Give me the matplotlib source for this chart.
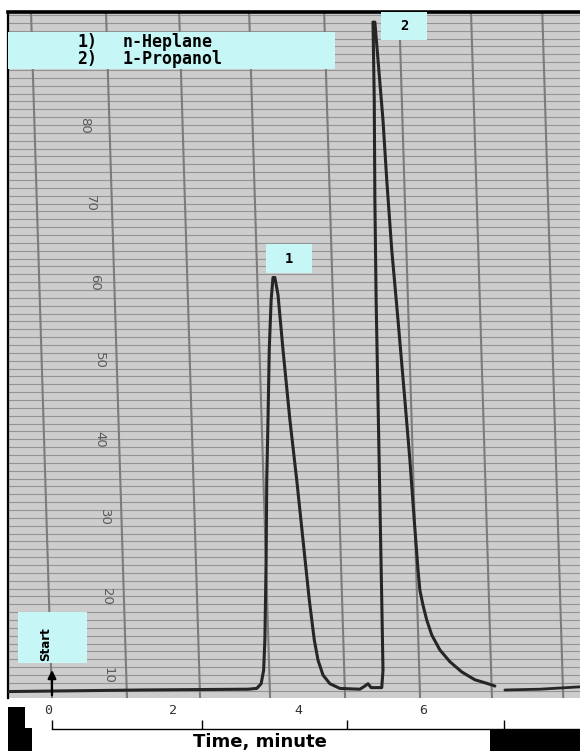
import matplotlib.pyplot as plt
from matplotlib.patches import Rectangle
import numpy as np

# pen trace: time in minutes, signal in chart units
trace_time = [-0.64, 1.50, 3.20, 3.34, 3.41, 3.45, 3.47, 3.49, 3.50, 3.52,
              3.54, 3.57, 3.60, 3.63, 3.68, 3.76, 3.87, 3.98, 4.08, 4.18,
              4.26, 4.32, 4.40, 4.51, 4.67, 4.99, 5.07, 5.12, 5.17, 5.34,
              5.36, 5.34, 5.31, 5.28, 5.25, 5.23, 5.22, 5.20, 5.23, 5.28,
              5.36, 5.42, 5.50, 5.60, 5.71, 5.79, 5.86, 5.92, 5.95, 6.00,
              6.06, 6.14, 6.27, 6.43, 6.62, 6.83, 7.04, 7.15]
trace_signal = [7.9, 8.1, 8.2, 8.3, 8.9, 10.6, 14.5, 24.6, 34.8, 42.5,
                51.4, 57.7, 60.6, 60.6, 58.4, 51.4, 42.5, 34.8, 27.2, 19.6,
                14.5, 11.9, 10.0, 8.9, 8.3, 8.2, 8.6, 8.9, 8.4, 8.4,
                10.6, 19.5, 32.3, 45.0, 57.7, 70.5, 83.2, 93.1, 93.1, 88.3,
                80.6, 73.0, 64.1, 55.2, 45.0, 37.4, 29.7, 23.4, 20.8, 18.9,
                17.0, 15.1, 13.2, 11.7, 10.4, 9.4, 8.9, 8.6]
# the pen line picks up again after a small gap
tail_time = [7.31, 7.87, 8.51]
tail_signal = [8.1, 8.2, 8.5]

peak_ids = ["1", "2"]
peak_names = ["n-Heplane", "1-Propanol"]
peak_label_time = [3.86, 5.70]
peak_label_signal = [61.2, 90.8]

paper_values = [80, 70, 60, 50, 40, 30, 20, 10]
paper_value_time = [0.59, 0.67, 0.75, 0.83, 0.83, 0.91, 0.94, 0.96]

time_labels = ["0", "2", "4", "6"]
time_label_pos = [0, 2, 4, 6]
time_tick_pos = [0.06, 2.46, 4.78, 7.30]

# vertical chart-paper lines where they cross the baseline (they lean a bit)
chart_lines = [0.06, 1.26, 2.43, 3.55, 4.75, 5.95, 7.10, 8.24]
lean = 0.00384

W, H = 580, 751
CYAN = "#c6f6f6"
XLIM = (-0.64, 8.512)
YLIM = (7.08, 94.39)


def px_rect(x0, y0, x1, y1):
    """ pixel box (top-left origin) -> figure fraction rect """
    return [x0 / W, 1 - y1 / H, (x1 - x0) / W, (y1 - y0) / H]


fig = plt.figure(figsize=(W / 100, H / 100), dpi=100, facecolor="white")

# chart paper
ax = fig.add_axes(px_rect(8, 12, 580, 698))
ax.set_xlim(*XLIM)
ax.set_ylim(*YLIM)
ax.set_facecolor("#cdcdcd")
ax.set_xticks([])
ax.set_yticks([])
for side in ["right", "bottom"]:
    ax.spines[side].set_visible(False)
ax.spines["top"].set_linewidth(2.6)
ax.spines["left"].set_linewidth(1.6)

ax.hlines(np.arange(8, 95), XLIM[0], XLIM[1], color="#949494", lw=0.8, zorder=1)
ys = np.array(YLIM)
for x0 in chart_lines:
    ax.plot(x0 - lean * (ys - 8), ys, color="#7c7c7c", lw=1.5, zorder=1.5)

for val, t in zip(paper_values, paper_value_time):
    ax.text(t, val, str(val), rotation=-90, ha="center", va="center",
            fontsize=9.5, color="#5a5a5a", zorder=2)

# the trace
ax.plot(trace_time, trace_signal, color="#262626", lw=2.2,
        solid_joinstyle="round", solid_capstyle="round", zorder=3)
ax.plot(tail_time, tail_signal, color="#262626", lw=2.0,
        solid_capstyle="round", zorder=3)

# peak number boxes
for pid, t, s in zip(peak_ids, peak_label_time, peak_label_signal):
    ax.add_patch(Rectangle((t - 0.37, s), 0.74, 3.6, facecolor=CYAN,
                           edgecolor="none", zorder=5, clip_on=False))
    ax.text(t, s + 1.8, pid, ha="center", va="center", fontsize=10,
            fontweight="bold", family="DejaVu Sans Mono", zorder=6)

# legend box
ax.add_patch(Rectangle((0, 0.917), 0.572, 0.054, transform=ax.transAxes,
                       facecolor=CYAN, edgecolor="none", zorder=5, clip_on=False))
for i, (pid, name) in enumerate(zip(peak_ids, peak_names)):
    y = 0.956 - 0.024 * i
    ax.text(0.121, y, pid + ")", transform=ax.transAxes, va="center",
            fontsize=12, fontweight="bold", family="DejaVu Sans Mono", zorder=6)
    ax.text(0.201, y, name, transform=ax.transAxes, va="center",
            fontsize=12, fontweight="bold", family="DejaVu Sans Mono", zorder=6)

# start marker
ax.add_patch(Rectangle((-0.48, 11.53), 1.10, 6.49, facecolor=CYAN,
                       edgecolor="none", zorder=5))
ax.text(-0.04, 14.0, "Start", rotation=90, ha="center", va="center",
        fontsize=9.5, fontweight="bold", stretch="condensed", zorder=6)
ax.annotate("", xy=(0.064, 11.0), xytext=(0.064, YLIM[0]),
            arrowprops=dict(arrowstyle="-|>", color="black", lw=1.6,
                            mutation_scale=12), zorder=6, annotation_clip=False)

# time scale under the paper
tax = fig.add_axes(px_rect(8, 698, 580, 729))
tax.set_xlim(*XLIM)
tax.set_ylim(0, 1)
tax.patch.set_visible(False)
for side in ["top", "left", "right"]:
    tax.spines[side].set_visible(False)
tax.spines["bottom"].set_bounds(time_tick_pos[0], XLIM[1])
tax.spines["bottom"].set_linewidth(1.0)
tax.set_yticks([])
tax.set_xticks(time_tick_pos)
tax.set_xticklabels([])
tax.tick_params(axis="x", direction="in", length=6.5, width=1.0)
for t, lab in zip(time_label_pos, time_labels):
    tax.text(t, 0.6, lab, ha="center", va="center", fontsize=9.5,
             family="DejaVu Sans Mono", color="#333333")

fig.text(259.5 / W, 1 - 742 / H, "Time, minute", ha="center", va="center",
         fontsize=13, fontweight="bold")

# black scan edges at the bottom
for x0, y0, x1, y1 in [(8, 707, 25, 751), (8, 728, 32, 751), (490, 730, 580, 751)]:
    fig.add_artist(Rectangle((x0 / W, 1 - y1 / H), (x1 - x0) / W, (y1 - y0) / H,
                             transform=fig.transFigure, facecolor="black",
                             edgecolor="none"))

fig.savefig("out.png", dpi=100)
